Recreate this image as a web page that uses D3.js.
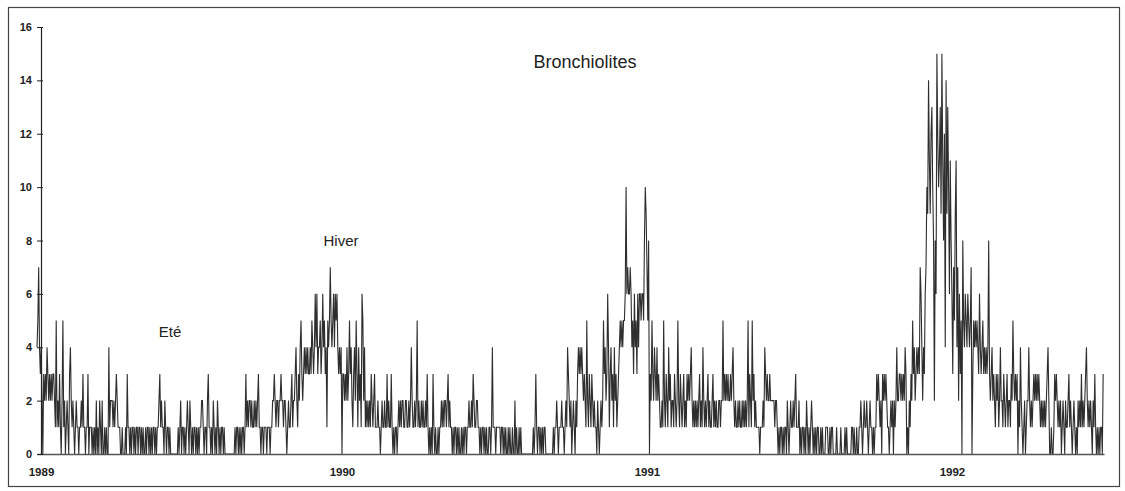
<!DOCTYPE html>
<html>
<head>
<meta charset="utf-8">
<script src="https://cdn.jsdelivr.net/npm/d3@7"></script>
<style>
	body { margin: 0; background: #fff; }
	svg { display: block; font-family: 'Liberation Sans', Arial, sans-serif; }
</style>
</head>
<body>
<svg></svg>
<script>
const width = 1125;
const height = 491;

// cas journaliers, une chaine par mois, un caractere hexa par jour
const annees = [1989, 1990, 1991, 1992];
const cas1989 = [
	'4574342032324323232332151213102',
	'5120121034212101211011213110',
	'1130111010102010210200101004122',
	'212123211100100010311010110101',
	'1011010100101101010110101123121',
	'102101101000000000101201101012',
	'1021010110101011221011023110102',
	'1010210101101000000000000101101',
	'010110131212212112121231101101',
	'1101110112232122122322122101211',
	'231223421324532343434334354346',
	'4634453464534154575456465643434'
];
const cas1990 = [
	'0332324235342134253142316524121',
	'2121321231112110121121131211',
	'3101011012121221122112124211212',
	'512112121121310101031010010112',
	'1212212312110101101010010101101',
	'121121321122110101101010011014',
	'1110111110110101001010010020100',
	'1010000000000000010131011010101',
	'100000000010112101112110121432',
	'1201210213434343232152132132121',
	'102101212534236413423142312345',
	'454556a6766764536453646656658a9'
];
const cas1991 = [
	'7580325324324232112152132142312',
	'2132125213212312132323421212',
	'1212312142121231211231212112212',
	'252323232232342121121211212121',
	'2513215231211110111214323223222',
	'221221010110101102101211212311',
	'1201011010210101210101011001010',
	'0011100101100001000010000101000',
	'001101001001121012112101211010',
	'1132321203232321101212021242233',
	'232324301021325342343437642436',
	'7a9eb9cda8286fcabd9fb8c4e9da6b8'
];
const cas1992 = [
	'63759b4726350854654654570354545',
	'43643453434348323423213231242',
	'2132123122132532323021421012012',
	'242121232323232121212123420010',
	'0132321212012102112312101210102',
	'121312123421212102131010101103'
];
const yTicks = [0, 2, 4, 6, 8, 10, 12, 14, 16];

const points = [];
[cas1989, cas1990, cas1991, cas1992].forEach((mois, i) => {
	mois.forEach((jours, m) => {
		const debut = new Date(annees[i], m, 1);
		jours.split('').forEach((c, j) => {
			points.push({ date: d3.timeDay.offset(debut, j), value: parseInt(c, 16) });
		});
	});
});

const svg = d3.select('svg')
	.attr('width', width)
	.attr('height', height);

const x = d3.scaleTime()
	.domain([new Date(1989, 0, 1), new Date(1992, 6, 1)])
	.range([37, 1104]);
const y = d3.scaleLinear()
	.domain([0, 16])
	.range([454, 27]);

svg.append('rect')
	.attr('x', 8.5)
	.attr('y', 7.5)
	.attr('width', 1111)
	.attr('height', 479)
	.attr('fill', 'none')
	.attr('stroke', '#444')
	.attr('stroke-width', 1.2);

const line = d3.line()
	.x(d => x(d.date))
	.y(d => y(d.value));

svg.append('path')
	.datum(points)
	.attr('fill', 'none')
	.attr('stroke', '#2e2e2e')
	.attr('stroke-width', 1.1)
	.attr('d', line);

const xAxis = svg.append('g')
	.attr('transform', 'translate(0,454)')
	.call(d3.axisBottom(x)
		.tickValues(annees.map(a => new Date(a, 0, 1)))
		.tickFormat(d3.timeFormat('%Y'))
		.tickSize(0)
		.tickPadding(14));
xAxis.select('.domain')
	.attr('stroke', '#555')
	.attr('stroke-width', 1.5);
xAxis.selectAll('text')
	.attr('font-size', 11.5)
	.attr('font-weight', 'bold')
	.attr('fill', '#222');
xAxis.select('.tick text')
	.attr('dx', 4);

const yAxis = svg.append('g')
	.attr('transform', 'translate(41,0)')
	.call(d3.axisLeft(y)
		.tickValues(yTicks)
		.tickSize(4)
		.tickSizeOuter(0)
		.tickPadding(5));
yAxis.selectAll('.tick line')
	.attr('x1', 2)
	.attr('stroke', '#222');
yAxis.select('.domain')
	.attr('stroke', '#222')
	.attr('stroke-width', 1.2);
yAxis.selectAll('text')
	.attr('font-size', 11)
	.attr('font-weight', 'bold')
	.attr('fill', '#222');

svg.append('text')
	.attr('x', 585)
	.attr('y', 68)
	.attr('text-anchor', 'middle')
	.attr('font-size', 18)
	.attr('fill', '#222')
	.text('Bronchiolites');

svg.append('text')
	.attr('x', 341)
	.attr('y', 246)
	.attr('text-anchor', 'middle')
	.attr('font-size', 15)
	.attr('fill', '#222')
	.text('Hiver');

svg.append('text')
	.attr('x', 170)
	.attr('y', 337)
	.attr('text-anchor', 'middle')
	.attr('font-size', 15)
	.attr('fill', '#222')
	.text('Eté');
</script>
</body>
</html>
